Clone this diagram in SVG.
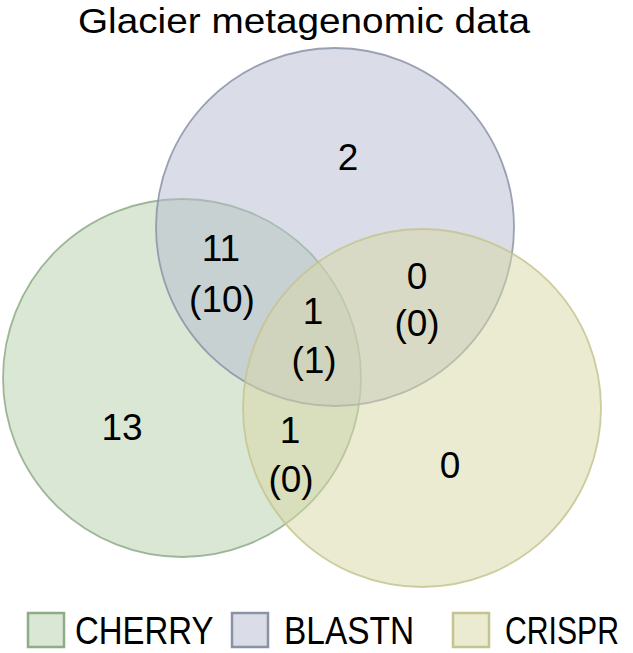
<svg xmlns="http://www.w3.org/2000/svg" width="633" height="653" viewBox="0 0 633 653">
<style>
text{font-family:"Liberation Sans","Noto Sans",sans-serif;fill:#000}
.num{font-size:37px;text-anchor:middle}
.title{font-size:35px}
.leg{font-size:38px}
.c{stroke-width:1.8;stroke-opacity:0.85}
.green{fill:#b5cfa9;fill-opacity:0.5;stroke:#8fac88}
.blue{fill:#b5bbcf;fill-opacity:0.5;stroke:#8a93a6}
.yellow{fill:#d7d7a5;fill-opacity:0.5;stroke:#c4c48f}
.box{stroke-width:2.5}
</style>
<rect width="633" height="653" fill="#ffffff"/>
<text class="title" x="78" y="33" textLength="452" lengthAdjust="spacingAndGlyphs">Glacier metagenomic data</text>
<g id="cherry"><circle class="c green" cx="182" cy="378" r="179"/></g>
<g id="blastn"><circle class="c blue" cx="335" cy="227" r="179"/></g>
<g id="crispr"><circle class="c yellow" cx="422" cy="408" r="179"/></g>
<g id="labels">
<text class="num" x="348" y="170">2</text>
<text class="num" x="221" y="261">11</text>
<text class="num" x="222" y="312">(10)</text>
<text class="num" x="313" y="324">1</text>
<text class="num" x="314" y="373">(1)</text>
<text class="num" x="417" y="289">0</text>
<text class="num" x="417" y="336">(0)</text>
<text class="num" x="290" y="443">1</text>
<text class="num" x="291" y="492">(0)</text>
<text class="num" x="450" y="478">0</text>
<text class="num" x="122" y="440">13</text>
</g>
<g id="legend">
<rect class="box green" x="28" y="613" width="36" height="34" fill-opacity="0.55"/>
<text class="leg" transform="translate(75,644) scale(0.85,1)" textLength="163" lengthAdjust="spacingAndGlyphs">CHERRY</text>
<rect class="box blue" x="232" y="613" width="36" height="34" fill-opacity="0.55"/>
<text class="leg" transform="translate(284,644) scale(0.85,1)" textLength="153" lengthAdjust="spacingAndGlyphs">BLASTN</text>
<rect class="box yellow" x="453" y="613" width="36" height="34" fill-opacity="0.55"/>
<text class="leg" transform="translate(505,644) scale(0.85,1)" textLength="134" lengthAdjust="spacingAndGlyphs">CRISPR</text>
</g>
</svg>
